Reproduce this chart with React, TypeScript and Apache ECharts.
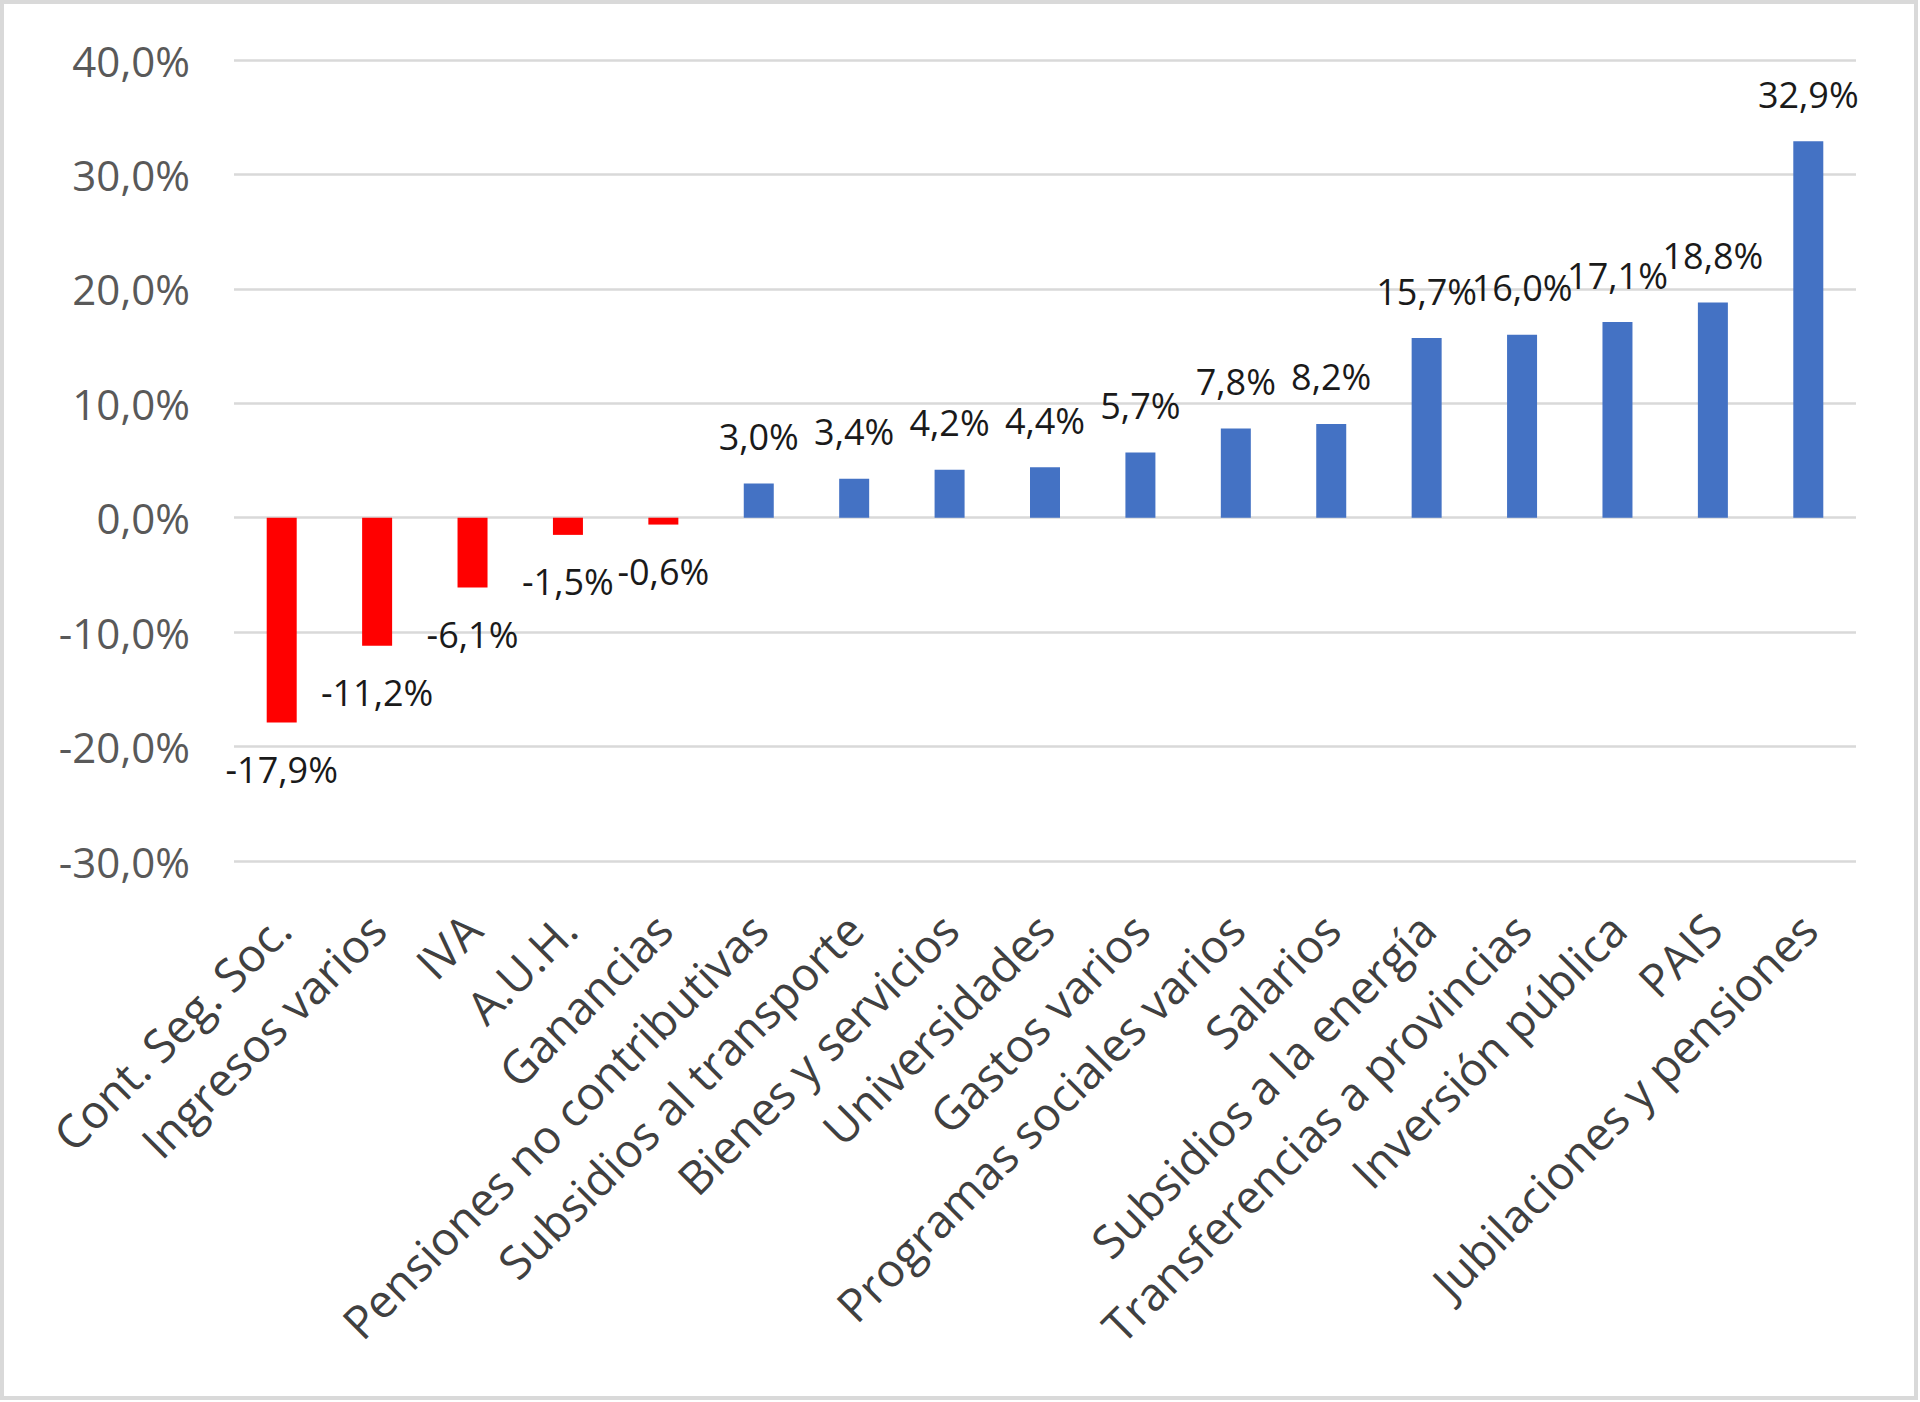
import React, { useEffect, useRef } from "react";
import * as echarts from "echarts";

const categories: string[] = [
  "Cont. Seg. Soc.",
  "Ingresos varios",
  "IVA",
  "A.U.H.",
  "Ganancias",
  "Pensiones no contributivas",
  "Subsidios al transporte",
  "Bienes y servicios",
  "Universidades",
  "Gastos varios",
  "Programas sociales varios",
  "Salarios",
  "Subsidios a la energía",
  "Transferencias a provincias",
  "Inversión pública",
  "PAIS",
  "Jubilaciones y pensiones",
];

const values: number[] = [
  -17.9, -11.2, -6.1, -1.5, -0.6, 3.0, 3.4, 4.2, 4.4, 5.7, 7.8, 8.2, 15.7, 16.0, 17.1, 18.8, 32.9,
];

const yTicks = { min: -30, max: 40, interval: 10 };

const NEG_COLOR = "#FF0000";
const POS_COLOR = "#4472C4";
const FONT = "'Open Sans', 'Noto Sans', sans-serif";

const fmt = (v: number) => v.toFixed(1).replace(".", ",") + "%";

export default function App() {
  const ref = useRef<HTMLDivElement>(null);

  useEffect(() => {
    if (!ref.current) return;
    const chart = echarts.init(ref.current, undefined, { renderer: "svg" });
    const data = values.map((v) => ({
      value: v,
      itemStyle: { color: v < 0 ? NEG_COLOR : POS_COLOR },
      label: { position: v < 0 ? "bottom" : "top" },
    }));
    chart.setOption({
      animation: false,
      backgroundColor: "#ffffff",
      textStyle: { fontFamily: FONT },
      graphic: [
        {
          type: "rect",
          shape: { x: 2, y: 2, width: 1914, height: 1396 },
          style: { fill: "none", stroke: "#d9d9d9", lineWidth: 4 },
          silent: true,
        },
      ],
      grid: { left: 234, right: 64, top: 60, bottom: 541, containLabel: false },
      xAxis: {
        type: "category",
        data: categories,
        axisLine: { show: false },
        axisTick: { show: false },
        axisLabel: {
          interval: 0,
          rotate: 45,
          margin: 60,
          fontSize: 46,
          color: "#404040",
          fontFamily: FONT,
        },
      },
      yAxis: {
        type: "value",
        min: yTicks.min,
        max: yTicks.max,
        interval: yTicks.interval,
        axisLine: { show: false },
        axisTick: { show: false },
        axisLabel: {
          formatter: (v: number) => fmt(v),
          fontSize: 42,
          color: "#595959",
          margin: 44,
          fontFamily: FONT,
        },
        splitLine: { lineStyle: { color: "#d9d9d9", width: 2.5 } },
      },
      series: [
        {
          type: "bar",
          data,
          barWidth: 30,
          label: {
            show: true,
            distance: 29,
            fontSize: 36,
            color: "#1a1a1a",
            fontFamily: FONT,
            formatter: (p: any) => fmt(p.value),
          },
        },
      ],
    });
    return () => chart.dispose();
  }, []);

  return (
    <div
      ref={ref}
      style={{ position: "fixed", left: 0, top: 0, width: 1920, height: 1402 }}
    />
  );
}
